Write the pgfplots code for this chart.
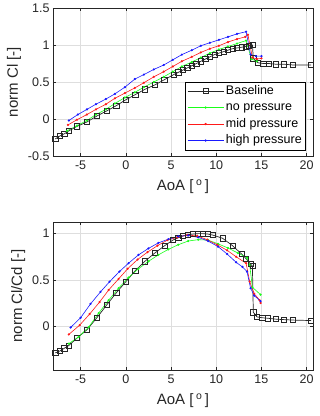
\documentclass[border=0pt]{standalone}
\usepackage{fontspec}
\setmainfont{Liberation Sans}
\usepackage{pgfplots}
\pgfplotsset{compat=1.18}

\definecolor{axgray}{rgb}{0.15,0.15,0.15}
\definecolor{gridgray}{rgb}{0.87,0.87,0.87}
\definecolor{mgreen}{rgb}{0.1,1,0.1}
\definecolor{mred}{rgb}{1,0.1,0.1}
\definecolor{mblue}{rgb}{0.1,0.1,1}

\pgfplotsset{
  matstyle/.style={
    scale only axis, width=260pt, height=148pt,
    xmin=-8.05, xmax=20.7,
    xtick={-5,0,...,20},
    axis line style={draw=axgray, line width=0.5pt},
    tick style={draw=axgray, line width=0.5pt},
    tick align=inside, major tick length=3pt,
    grid=major, major grid style={draw=gridgray, line width=0.5pt},
    ticklabel style={font=\fontsize{12.5}{14}\selectfont, text=axgray},
    xticklabel style={yshift=-1.5pt},
    label style={font=\fontsize{15}{17}\selectfont, text=axgray},
    /pgf/number format/assume math mode=true,
    xlabel={AoA [\,\textsuperscript{o}\,]},
    xlabel style={yshift=-3pt},
    legend image code/.code={
      \draw[mark repeat=2,mark phase=2,#1] plot coordinates {(0pt,0pt) (18pt,0pt) (36pt,0pt)};
    },
  },
  base/.style={draw=black!85, line width=0.7pt, mark=square, mark size=2.6pt, mark options={solid, line width=0.6pt}},
  cline/.style={draw=#1, line width=0.6pt, mark=*, mark size=0.8pt, mark options={fill=#1, draw=#1}},
}

\begin{document}
\begin{tikzpicture}
\useasboundingbox (0,0) rectangle (320pt,416pt);

% top: lift
\begin{axis}[
  matstyle,
  at={(53pt,260pt)}, anchor=south west,
  ymin=-0.5, ymax=1.5,
  ytick={-0.5,0,0.5,1,1.5},
  ylabel={norm Cl [-]},
  legend style={at={(0.973,0.04)}, anchor=south east, draw=black, line width=0.5pt,
    fill=white, font=\fontsize{12.5}{14}\selectfont, inner xsep=2pt, inner ysep=1pt,
    row sep=0pt, cells={anchor=west},
    nodes={inner ysep=1.5pt, text height=10pt, text depth=3.5pt}},
]
\addplot[base] coordinates {
 (-7.8,-0.27) (-7.3,-0.23) (-6.8,-0.20) (-6.3,-0.16) (-5.4,-0.10) (-4.3,-0.04)
 (-3.2,0.04) (-2.1,0.11) (-1.05,0.18) (0.0,0.26) (1.05,0.33) (2.1,0.40)
 (3.2,0.46) (4.25,0.53) (5.3,0.60) (5.8,0.63) (6.3,0.66) (6.8,0.69) (7.3,0.72)
 (7.8,0.75) (8.3,0.78) (8.8,0.81) (9.3,0.84) (9.8,0.87) (10.3,0.89) (10.8,0.91)
 (11.3,0.93) (11.8,0.95) (12.3,0.96) (12.8,0.97) (13.3,0.98) (13.6,0.99)
 (14.0,1.00) (14.1,0.82) (14.6,0.76) (15.2,0.75) (15.8,0.75) (16.6,0.74)
 (17.5,0.74) (18.5,0.73) (20.5,0.73)
};
\addlegendentry{Baseline}
\addplot[cline=mgreen] coordinates {
 (-6.5,-0.16) (-5.4,-0.09) (-4.3,-0.02) (-3.3,0.06) (-2.2,0.13) (-1.2,0.21)
 (-0.1,0.29) (1.0,0.36) (2.0,0.43) (3.1,0.50) (4.2,0.57) (5.2,0.64) (6.2,0.71)
 (7.3,0.77) (8.3,0.83) (9.3,0.89) (10.3,0.94) (11.3,0.98) (12.3,1.02) (13.3,1.06)
 (13.9,0.81) (14.5,0.78)
};
\addlegendentry{no pressure}
\addplot[cline=mred] coordinates {
 (-6.4,-0.08) (-5.4,-0.01) (-4.3,0.06) (-3.3,0.13) (-2.2,0.20) (-1.2,0.28)
 (-0.1,0.35) (1.0,0.42) (2.0,0.49) (3.1,0.57) (4.2,0.64) (5.2,0.71) (6.2,0.78)
 (7.3,0.84) (8.3,0.90) (9.3,0.95) (10.3,0.99) (11.3,1.04) (12.3,1.08) (13.2,1.11)
 (13.5,1.14) (14.0,0.83) (14.5,0.81) (15.0,0.82)
};
\addlegendentry{mid pressure}
\addplot[cline=mblue] coordinates {
 (-6.3,-0.02) (-5.3,0.06) (-4.3,0.13) (-3.3,0.20) (-2.2,0.27) (-1.2,0.34)
 (-0.1,0.43) (1.0,0.54) (2.0,0.60) (3.1,0.67) (4.2,0.73) (5.2,0.80) (6.2,0.87)
 (7.3,0.93) (8.3,0.99) (9.3,1.03) (10.3,1.07) (11.3,1.11) (12.3,1.15) (13.3,1.18)
 (13.8,0.87) (14.4,0.85) (15.0,0.85)
};
\addlegendentry{high pressure}
\end{axis}

% bottom: lift-to-drag
\begin{axis}[
  matstyle,
  at={(53pt,46pt)}, anchor=south west,
  ymin=-0.475, ymax=1.126,
  ytick={0,0.5,1},
  ylabel={norm Cl/Cd [-]},
]
\addplot[base] coordinates {
 (-7.8,-0.29) (-7.3,-0.27) (-6.8,-0.24) (-6.3,-0.21) (-5.4,-0.13) (-4.3,-0.04)
 (-3.2,0.09) (-2.1,0.23) (-1.05,0.36) (0.0,0.48) (1.05,0.60) (2.1,0.70)
 (3.2,0.79) (4.3,0.87) (5.2,0.93) (5.8,0.955) (6.3,0.975) (6.9,0.99) (7.4,0.995)
 (8.0,1.0) (8.5,1.0) (9.1,0.995) (9.6,0.985) (10.7,0.95) (11.8,0.87) (12.8,0.78)
 (13.3,0.73) (13.8,0.67) (14.0,0.65) (14.1,0.15) (14.5,0.10) (15.1,0.09)
 (15.7,0.085) (16.6,0.075) (17.5,0.07) (18.5,0.065) (20.5,0.06)
};
\addplot[cline=mgreen] coordinates {
 (-6.3,-0.19) (-5.2,-0.115) (-4.1,-0.01) (-3.0,0.14) (-1.9,0.28) (-0.8,0.41)
 (0.3,0.525) (1.4,0.62) (2.5,0.70) (3.6,0.77) (4.7,0.83) (5.8,0.88) (6.9,0.92)
 (8.0,0.935) (9.1,0.93) (10.2,0.89) (11.3,0.845) (12.4,0.79) (13.4,0.74)
 (13.7,0.66) (14.0,0.42) (14.9,0.34)
};
\addplot[cline=mred] coordinates {
 (-6.3,-0.09) (-5.1,0.01) (-4.0,0.13) (-2.9,0.26) (-1.9,0.39) (-0.8,0.51)
 (0.2,0.62) (1.3,0.72) (2.4,0.80) (3.5,0.87) (4.6,0.93) (5.7,0.96) (6.8,0.985)
 (7.9,0.975) (9.0,0.935) (10.1,0.88) (11.2,0.82) (12.2,0.75) (13.3,0.68)
 (13.7,0.48) (14.2,0.35) (14.8,0.28) (14.9,0.25)
};
\addplot[cline=mblue] coordinates {
 (-6.1,-0.015) (-5.0,0.09) (-3.9,0.24) (-2.8,0.37) (-1.8,0.48) (-0.7,0.59)
 (0.3,0.68) (1.4,0.77) (2.5,0.84) (3.6,0.90) (4.7,0.94) (5.8,0.97) (6.9,0.98)
 (8.0,0.96) (9.1,0.92) (10.2,0.86) (11.2,0.78) (12.2,0.69) (12.9,0.64)
 (13.4,0.59) (13.8,0.41) (14.2,0.33) (14.9,0.27)
};
\end{axis}
\end{tikzpicture}
\end{document}
